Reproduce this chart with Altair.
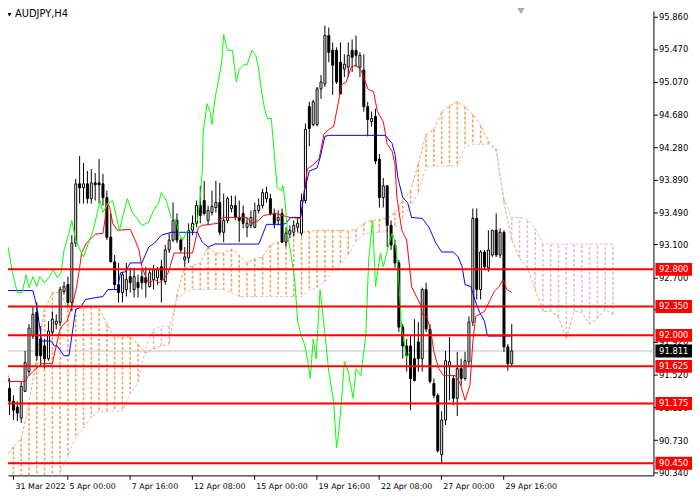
import json
import altair as alt
import pandas as pd

# ---------------- data ----------------
candle_open = [91.441, 91.357, 91.202, 91.130, 90.998, 91.321, 91.561, 91.992, 92.279, 91.956,
               91.872, 91.717, 92.040, 92.136, 92.160, 92.531, 92.615, 92.399, 93.118, 93.836,
               93.788, 93.836, 93.657, 93.848, 93.848, 93.836, 93.669, 93.189, 92.890, 92.615,
               92.519, 92.555, 92.711, 92.555, 92.639, 92.711, 92.699, 92.591, 92.675, 92.699,
               92.830, 92.651, 93.034, 93.154, 93.393, 93.154, 92.914, 92.938, 93.273, 93.357,
               93.573, 93.633, 93.393, 93.489, 93.549, 93.609, 93.249, 93.393, 93.537, 93.573,
               93.429, 93.477, 93.309, 93.333, 93.309, 93.513, 93.573, 93.657, 93.657, 93.477,
               93.393, 93.477, 93.130, 93.225, 93.249, 93.309, 93.237, 93.633, 94.771, 94.555,
               94.555, 94.986, 95.046, 95.633, 95.453, 95.453, 95.309, 95.226, 95.250, 95.453,
               95.453, 95.250, 95.214, 94.771, 94.591, 94.651, 94.136, 93.669, 93.812, 93.333,
               93.094, 92.878, 92.100, 91.872, 91.872, 91.717, 91.920, 91.717, 92.555, 92.076,
               91.417, 91.273, 90.555, 90.974, 91.633, 91.477, 91.238, 91.597, 91.477, 91.681,
               92.160, 93.417, 92.555, 93.010, 92.818, 92.974, 93.273, 92.974, 93.249, 91.860,
               91.657]
candle_high = [91.477, 91.477, 91.273, 91.202, 91.441, 91.812, 92.136, 92.339, 92.399, 92.112,
               91.956, 92.172, 92.291, 92.255, 92.591, 92.651, 92.711, 93.213, 93.896, 94.172,
               94.088, 93.992, 94.016, 93.968, 94.136, 93.956, 93.753, 93.477, 92.974, 92.878,
               92.770, 92.878, 92.818, 92.818, 92.735, 92.794, 92.830, 92.818, 92.854, 92.830,
               92.914, 93.094, 93.237, 93.609, 93.477, 93.178, 93.070, 93.357, 93.453, 93.633,
               93.812, 93.872, 93.573, 93.753, 93.872, 93.848, 93.717, 93.681, 93.693, 93.693,
               93.633, 93.573, 93.429, 93.513, 93.609, 93.657, 93.776, 93.800, 93.717, 93.537,
               93.513, 93.537, 93.309, 93.333, 93.393, 93.417, 93.717, 94.567, 94.830, 94.854,
               95.010, 95.154, 95.753, 95.729, 95.549, 95.489, 95.549, 95.405, 95.549, 95.585,
               95.633, 95.429, 95.405, 94.830, 94.711, 94.747, 94.196, 93.908, 93.812, 93.393,
               93.154, 92.914, 92.136, 91.956, 91.992, 92.196, 92.160, 92.579, 92.639, 92.136,
               91.477, 91.297, 91.082, 91.812, 91.980, 91.513, 91.800, 91.717, 91.800, 92.231,
               93.537, 93.537, 93.034, 93.034, 93.273, 93.273, 93.477, 93.297, 93.273, 91.896,
               92.136]
candle_low = [90.759, 91.034, 90.974, 90.962, 90.938, 91.321, 91.513, 91.956, 91.693, 91.633,
              91.597, 91.693, 92.004, 92.076, 92.112, 92.495, 92.351, 92.291, 93.070, 93.597,
              93.597, 93.597, 93.597, 93.633, 93.597, 93.573, 93.154, 92.914, 92.555, 92.399,
              92.399, 92.471, 92.519, 92.459, 92.459, 92.555, 92.459, 92.579, 92.555, 92.615,
              92.399, 92.615, 92.998, 93.130, 93.118, 92.998, 92.830, 92.878, 93.213, 93.309,
              93.357, 93.453, 93.333, 93.453, 93.489, 93.213, 93.130, 93.357, 93.489, 93.393,
              93.130, 93.297, 93.189, 93.297, 93.297, 93.477, 93.537, 93.609, 93.453, 93.297,
              93.333, 93.118, 93.070, 93.178, 93.201, 93.249, 93.201, 93.597, 94.291, 94.531,
              94.531, 94.866, 95.010, 95.309, 94.914, 95.046, 94.926, 95.130, 95.130, 95.190,
              95.250, 95.130, 94.711, 94.411, 94.531, 94.076, 93.549, 93.549, 93.070, 93.034,
              92.818, 92.040, 91.717, 91.561, 91.094, 91.441, 91.561, 91.561, 92.040, 91.417,
              91.238, 90.579, 90.459, 90.914, 91.214, 91.154, 91.022, 91.393, 91.453, 91.633,
              92.112, 92.435, 92.435, 92.794, 92.770, 92.950, 92.950, 92.938, 91.800, 91.573,
              91.621]
candle_close = [91.154, 91.202, 91.094, 91.058, 91.381, 91.669, 92.088, 92.255, 91.752, 91.752,
                91.717, 92.052, 92.196, 92.172, 92.555, 92.591, 92.399, 93.118, 93.836, 93.788,
                93.836, 93.657, 93.848, 93.824, 93.824, 93.669, 93.189, 92.890, 92.615, 92.519,
                92.735, 92.675, 92.639, 92.711, 92.579, 92.639, 92.639, 92.758, 92.794, 92.794,
                92.675, 93.034, 93.154, 93.393, 93.154, 93.034, 92.950, 93.273, 93.357, 93.573,
                93.453, 93.477, 93.513, 93.561, 93.609, 93.249, 93.393, 93.657, 93.573, 93.429,
                93.393, 93.357, 93.357, 93.429, 93.513, 93.573, 93.729, 93.729, 93.477, 93.357,
                93.429, 93.130, 93.237, 93.273, 93.333, 93.357, 93.633, 94.495, 94.507, 94.830,
                94.986, 95.070, 95.633, 95.429, 95.273, 95.070, 94.926, 95.285, 95.393, 95.369,
                95.393, 95.393, 94.771, 94.615, 94.627, 94.112, 93.669, 93.812, 93.333, 93.094,
                92.878, 92.100, 91.872, 91.752, 91.477, 91.453, 91.717, 92.555, 92.076, 91.441,
                91.273, 90.603, 90.974, 91.693, 91.681, 91.238, 91.597, 91.477, 91.693, 92.160,
                93.417, 92.555, 93.010, 92.830, 93.034, 93.273, 92.974, 93.249, 91.860, 91.657,
                91.811]

tenkan_bar = [0, 0.75, 5, 5.75, 7, 9.25, 12, 13, 13.75, 14.5, 15.75, 16.75, 17.5, 18.25, 19, 19.5,
              20.75, 22, 23, 25, 25.5, 26, 26.75, 27.5, 28.75, 32, 33.25, 34.25, 35, 36.25, 37,
              38.25, 39.5, 40.5, 41.75, 43.25, 48, 49.5, 50.5, 54.5, 55.75, 62, 63.25, 65, 66.25,
              69.25, 73, 75.75, 76.75, 77.5, 79.25, 80.5, 81.75, 83, 84.25, 85.5, 86.25, 87.5,
              88.75, 90, 91.25, 92, 93, 94.5, 95.5, 97, 98, 99.25, 100, 100.5, 101.75, 103,
              103.75, 104.25, 105.5, 106.75, 107, 108.25, 109.25, 110, 111.25, 112.5, 115.5,
              116.75, 118, 119.25, 120, 120.75, 123, 124.5, 125.5, 126.75, 127.75, 128.75, 130]
tenkan_price = [91.717, 91.441, 91.441, 91.501, 91.561, 91.657, 91.657, 91.872, 92.040, 92.112,
                92.172, 92.315, 92.435, 92.591, 92.818, 92.998, 93.118, 93.178, 93.225, 93.237,
                93.393, 93.609, 93.549, 93.357, 93.273, 93.285, 93.154, 93.034, 92.830, 92.675,
                92.639, 92.675, 92.639, 92.675, 92.758, 92.998, 92.998, 93.309, 93.333, 93.357,
                93.429, 93.429, 93.357, 93.393, 93.453, 93.477, 93.429, 93.417, 93.753, 94.016,
                94.076, 94.136, 94.435, 94.495, 94.531, 94.830, 95.034, 95.070, 95.250, 95.274,
                95.214, 95.130, 94.986, 94.950, 94.711, 94.591, 94.315, 94.232, 94.076, 93.669,
                93.273, 93.154, 92.830, 92.591, 92.471, 92.351, 92.255, 92.219, 92.040, 91.800,
                91.597, 91.513, 91.513, 91.417, 91.214, 91.393, 91.920, 92.231, 92.291, 92.435,
                92.531, 92.591, 92.675, 92.555, 92.519]

kijun_bar = [0, 7, 8, 9.25, 11.75, 12.5, 13.25, 15, 16.25, 17, 18, 19.25, 20.5, 25, 26.25, 28.75,
             29.5, 30.75, 32, 35, 36.75, 38.25, 40, 42.5, 49.25, 50.5, 52, 53.75, 65, 65.75, 67,
             71.25, 72, 73.25, 75.75, 76.75, 78, 80, 80.75, 82, 83, 97.5, 99.25, 100, 100.75, 102,
             103.25, 104.25, 107, 108.75, 110.5, 112, 115, 116.25, 117.25, 118, 119.5, 120.5,
             121.75, 123, 123.75, 130]
kijun_price = [92.543, 92.543, 92.351, 91.932, 91.932, 91.872, 91.872, 91.753, 91.753, 91.992,
               92.315, 92.339, 92.435, 92.471, 92.555, 92.555, 92.758, 92.770, 92.878, 92.878,
               93.070, 93.118, 93.213, 93.249, 93.249, 93.130, 93.070, 93.106, 93.106, 93.189,
               93.345, 93.345, 93.357, 93.429, 93.429, 93.753, 93.992, 94.028, 94.148, 94.411,
               94.423, 94.423, 94.327, 94.196, 93.908, 93.669, 93.609, 93.429, 93.417, 93.309,
               93.118, 93.010, 93.010, 92.950, 92.830, 92.615, 92.591, 92.435, 92.279, 92.172,
               91.992, 91.992]

chikou_bar = [0, 0.75, 1.75, 3, 4.25, 5.25, 6, 7, 8, 8.75, 10, 11.25, 12.25, 13.25, 14.25, 15,
              16.25, 17, 18, 18.75, 20, 21.25, 22.5, 24.25, 25, 26.25, 27.5, 29.25, 30, 31.25,
              32.5, 33.75, 35, 36.75, 38, 39.25, 40, 41.25, 42.5, 43.75, 44.5, 45.5, 46.75, 48,
              49.25, 50, 50.5, 50.75, 51.75, 52.5, 53, 53.75, 54.5, 55.5, 56, 57, 58.25, 59.25,
              60, 61.25, 62, 63.25, 64.25, 65, 65.75, 66.5, 67.25, 68.25, 69, 69.75, 70.75, 71.25,
              71.75, 72.5, 73.25, 74.25, 75, 75.75, 76.75, 77.5, 78.25, 79, 79.75, 80.75, 81.75,
              83, 84.25, 85, 85.5, 86.25, 87, 88, 89.25, 90, 91.25, 92.5, 93.25, 94.25, 95, 96.25,
              97, 98.25, 99.25, 100, 100.75, 101.25, 101.75, 102.5, 103, 103.75]
chikou_price = [93.189, 93.034, 92.758, 92.519, 92.519, 92.735, 92.579, 92.711, 92.591, 92.711,
                92.639, 92.711, 92.794, 92.699, 92.758, 93.034, 93.237, 93.393, 93.154, 93.070,
                92.950, 93.118, 93.273, 93.633, 93.489, 93.597, 93.633, 93.273, 93.429, 93.657,
                93.489, 93.417, 93.333, 93.369, 93.513, 93.597, 93.729, 93.633, 93.429, 93.393,
                93.237, 93.154, 93.273, 93.309, 93.393, 93.669, 93.992, 94.471, 94.806, 94.711,
                94.555, 94.866, 95.046, 95.309, 95.645, 95.453, 95.453, 95.070, 95.226, 95.285,
                95.274, 95.453, 95.393, 95.226, 94.950, 94.747, 94.627, 94.627, 94.196, 93.788,
                93.753, 93.812, 93.633, 93.189, 92.998, 92.675, 92.172, 92.016, 91.896, 91.717,
                91.477, 91.956, 91.717, 92.555, 92.136, 91.561, 91.202, 90.639, 90.795, 91.202,
                91.681, 91.561, 91.238, 91.597, 91.513, 91.992, 92.914, 93.393, 92.591, 92.998,
                92.830, 93.070, 93.237, 93.154, 92.830, 92.435, 92.076, 91.872, 91.717, 91.800]

span_bar = list(range(0, 157, 2))
span_a = [90.519, 90.651, 90.747, 91.178, 91.740, 92.315, 92.519, 92.519, 92.315, 92.315,
          92.327, 92.339, 92.327, 92.136, 91.980, 91.980, 91.980, 91.896, 91.788, 91.836,
          91.872, 91.896, 92.495, 92.818, 92.842, 92.878, 93.070, 92.998, 92.998, 93.046,
          92.974, 92.878, 92.926, 92.950, 93.094, 93.130, 93.130, 93.225, 93.249, 93.261,
          93.273, 93.273, 93.273, 93.273, 93.261, 93.285, 93.357, 93.393, 93.405, 93.417,
          93.489, 93.633, 93.753, 94.076, 94.435, 94.495, 94.711, 94.782, 94.830, 94.770,
          94.675, 94.543, 94.351, 94.255, 93.609, 93.154, 92.938, 92.818, 92.555, 92.291,
          92.291, 92.219, 91.956, 92.291, 92.279, 92.136, 92.207, 92.315, 92.255]
span_b = [90.040, 90.040, 90.040, 90.040, 90.040, 90.040, 90.040, 90.340, 90.543, 90.759,
          90.878, 91.010, 91.082, 91.082, 91.082, 91.082, 91.297, 91.417, 91.848, 92.076,
          92.112, 92.112, 92.435, 92.519, 92.555, 92.555, 92.555, 92.555, 92.555, 92.519,
          92.471, 92.471, 92.471, 92.471, 92.471, 92.471, 92.471, 92.471, 92.471, 92.543,
          92.579, 92.651, 92.782, 92.866, 92.974, 93.142, 93.225, 93.249, 93.249, 93.261,
          93.309, 93.429, 93.573, 93.729, 94.040, 94.052, 94.052, 94.052, 94.052, 94.291,
          94.315, 94.315, 94.315, 94.232, 93.657, 93.429, 93.429, 93.405, 93.297, 93.106,
          93.106, 93.106, 93.106, 93.106, 93.106, 93.106, 93.106, 93.106, 93.106]

level_prices = [92.800, 92.350, 92.000, 91.625, 91.175, 90.450]
last_price = 91.811
price_ticks = [95.860, 95.470, 95.070, 94.680, 94.280, 93.890, 93.490, 93.100, 92.700,
               92.310, 91.920, 91.520, 91.130, 90.730, 90.340]
time_tick_bars = [1.875, 15.75, 31.75, 47.75, 63.75, 79.75, 95.75, 111.75, 127.75]
time_labels = ["31 Mar 2022", "5 Apr 00:00", "7 Apr 16:00", "12 Apr 08:00", "15 Apr 00:00",
               "19 Apr 16:00", "22 Apr 08:00", "27 Apr 00:00", "29 Apr 16:00"]
symbol_title = "AUDJPY,H4"

# ---------------- tables ----------------
candles = pd.DataFrame({"bar": list(range(len(candle_open))), "o": candle_open,
                        "h": candle_high, "l": candle_low, "c": candle_close})
tenkan = pd.DataFrame({"bar": tenkan_bar, "p": tenkan_price})
kijun = pd.DataFrame({"bar": kijun_bar, "p": kijun_price})
chikou = pd.DataFrame({"bar": chikou_bar, "p": chikou_price})
cloud = pd.DataFrame({"bar": span_bar, "a": span_a, "b": span_b})
levels = pd.DataFrame({"p": level_prices})
last = pd.DataFrame({"p": [last_price]})
one = pd.DataFrame({"t": [symbol_title]})

W, H = 653, 470
FONT = "DejaVu Sans"
xs = alt.Scale(domain=[1.875, 165.125], nice=False, zero=False)
ys = alt.Scale(domain=[90.3035, 95.932], nice=False, zero=False)

x_axis = alt.Axis(values=time_tick_bars, title="", grid=False, tickSize=4,
                  labelExpr=json.dumps(time_labels) + "[round((datum.value + 0.25) / 16)]",
                  labelAlign="left", labelOffset=2, labelPadding=3, labelFont=FONT,
                  labelFontSize=8, labelColor="black", domainColor="black", tickColor="black",
                  labelOverlap=False, labelFlush=False)
y_axis = alt.Axis(orient="right", values=price_ticks, format=".3f", title="", grid=False,
                  tickSize=4, labelPadding=1, labelFont=FONT, labelFontSize=8.5,
                  labelColor="black", domainColor="black", tickColor="black",
                  labelOverlap=False, labelFlush=False)


def X(field="bar"):
    return alt.X(f"{field}:Q", scale=xs, axis=x_axis)


def Y(field):
    return alt.Y(f"{field}:Q", scale=ys, axis=y_axis)


ORANGE = "#F4A460"
THISTLE = "#D8BFD8"

last_line = alt.Chart(last).mark_rule(color="#C0C0C0", strokeWidth=1).encode(
    y=Y("p"), x=alt.value(0), x2=alt.value(W))

hatch = alt.Chart(cloud).mark_rule(strokeWidth=1.6, strokeDash=[3, 2], clip=True).encode(
    x=X(), y=Y("a"), y2="b:Q",
    color=alt.condition("datum.a >= datum.b", alt.value(ORANGE), alt.value(THISTLE)))
line_a = alt.Chart(cloud).mark_line(color=ORANGE, strokeWidth=1, strokeDash=[3, 2],
                                    clip=True).encode(x=X(), y=Y("a"))
line_b = alt.Chart(cloud).mark_line(color=THISTLE, strokeWidth=1, strokeDash=[3, 2],
                                    clip=True).encode(x=X(), y=Y("b"))

wicks = alt.Chart(candles).mark_rule(color="black", strokeWidth=1, clip=True).encode(
    x=X(), y=Y("l"), y2="h:Q")
bodies = alt.Chart(candles).mark_bar(size=2, stroke="black", strokeWidth=1, clip=True).encode(
    x=X(), y=Y("o"), y2="c:Q",
    color=alt.condition("datum.c >= datum.o", alt.value("white"), alt.value("black")))

tenkan_line = alt.Chart(tenkan).mark_line(color="#FF0000", strokeWidth=1, clip=True).encode(
    x=X(), y=Y("p"))
kijun_line = alt.Chart(kijun).mark_line(color="#0000FF", strokeWidth=1, clip=True).encode(
    x=X(), y=Y("p"))
chikou_line = alt.Chart(chikou).mark_line(color="#00FF00", strokeWidth=1, clip=True).encode(
    x=X(), y=Y("p"))

level_lines = alt.Chart(levels).mark_rule(color="#FF0000", strokeWidth=2).encode(
    y=Y("p"), x=alt.value(0), x2=alt.value(W))
level_boxes = alt.Chart(levels).mark_rule(color="#FF0000", strokeWidth=13).encode(
    y=Y("p"), x=alt.value(W + 2), x2=alt.value(W + 39))
level_text = alt.Chart(levels).mark_text(color="white", font=FONT, fontSize=8.5, align="center",
                                         baseline="middle").encode(
    y=Y("p"), x=alt.value(W + 20.5), text=alt.Text("p:Q", format=".3f"))
last_box = alt.Chart(last).mark_rule(color="black", strokeWidth=13).encode(
    y=Y("p"), x=alt.value(W + 2), x2=alt.value(W + 39))
last_text = alt.Chart(last).mark_text(color="white", font=FONT, fontSize=8.5, align="center",
                                      baseline="middle").encode(
    y=Y("p"), x=alt.value(W + 20.5), text=alt.Text("p:Q", format=".3f"))

title_text = alt.Chart(one).mark_text(align="left", baseline="middle", font=FONT, fontSize=10,
                                      color="black").encode(
    x=alt.value(7), y=alt.value(3.5), text="t:N")
title_tri = alt.Chart(one).mark_point(shape="triangle-down", filled=True, color="black",
                                      size=18, opacity=1).encode(x=alt.value(1.5), y=alt.value(4))
shift_tri = alt.Chart(one).mark_point(shape="triangle-down", filled=True, color="#A9A9A9",
                                      size=60, opacity=1).encode(x=alt.value(519), y=alt.value(0))

chart = alt.layer(
    last_line, hatch, line_a, line_b, wicks, bodies, tenkan_line, kijun_line, chikou_line,
    level_lines, level_boxes, level_text, last_box, last_text, title_text, title_tri, shift_tri
).properties(
    width=W, height=H,
    autosize=alt.AutoSizeParams(type="none"),
    padding={"left": 0, "top": 0, "right": 39, "bottom": 18},
).configure_view(stroke="transparent")

chart.save("out.html", embed_options={"renderer": "svg", "actions": False})
